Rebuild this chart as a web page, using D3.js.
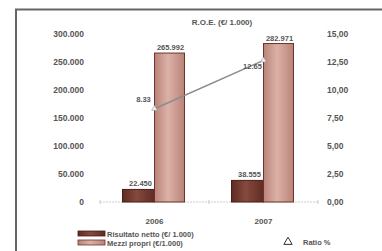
<!DOCTYPE html>
<html>
<head>
<meta charset="utf-8">
<script src="https://cdn.jsdelivr.net/npm/d3@7"></script>
<style>
body { margin: 0; background: #fff; }
svg text { font-family: "Liberation Sans", Arial, sans-serif; font-weight: bold; fill: #555; }
</style>
</head>
<body>
<div id="chart"></div>
<script>
// data
var years = ["2006", "2007"];
var risultatoNetto = [22450, 38555];
var mezziPropri = [265992, 282971];
var ratio = [8.33, 12.65];
var leftTicks = [0, 50000, 100000, 150000, 200000, 250000, 300000];
var rightTicks = [0, 2.5, 5, 7.5, 10, 12.5, 15];

var svgWidth = 382, svgHeight = 251;

var it = d3.formatLocale({decimal: ",", thousands: ".", grouping: [3], currency: ["€", ""]});
var fmtInt = it.format(",d");
var fmtDec = it.format(".2f");
var fmtRatio = d3.format(".2f");

var svg = d3.select("#chart").append("svg")
    .attr("width", svgWidth)
    .attr("height", svgHeight);

// gradients for the bars
var defs = svg.append("defs");
function grad(id, edge, mid) {
  var g = defs.append("linearGradient").attr("id", id)
    .attr("x1", "0%").attr("x2", "100%").attr("y1", "0%").attr("y2", "0%");
  g.append("stop").attr("offset", "0%").attr("stop-color", edge);
  g.append("stop").attr("offset", "45%").attr("stop-color", mid);
  g.append("stop").attr("offset", "100%").attr("stop-color", edge);
}
grad("gDark", "#5e2c23", "#86493e");
grad("gLight", "#b98379", "#dcb1a7");

// frame
svg.append("path")
  .attr("d", "M16," + svgHeight + " V9.5 H" + svgWidth)
  .attr("fill", "none")
  .attr("stroke", "#666")
  .attr("stroke-width", 2);

var x = d3.scaleBand().domain(years).range([100, 318]);
var yL = d3.scaleLinear().domain([0, 300000]).range([202, 34]);
var yR = d3.scaleLinear().domain([0, 15]).range([202, 34]);
var barW = 32;

// title
svg.append("text")
  .attr("x", 222).attr("y", 25)
  .attr("text-anchor", "middle")
  .attr("font-size", "8px")
  .text("R.O.E. (€/ 1.000)");

// left axis
var leftAxis = d3.axisLeft(yL).tickValues(leftTicks).tickSize(0).tickPadding(0)
  .tickFormat(function(d) { return fmtInt(d); });
var gl = svg.append("g").attr("transform", "translate(84,0)").call(leftAxis);
gl.select(".domain").remove();
gl.selectAll("text").attr("font-size", "8.5px").attr("font-family", null).attr("fill", "#555");

// right axis
var rightAxis = d3.axisRight(yR).tickValues(rightTicks).tickSize(0).tickPadding(0)
  .tickFormat(function(d) { return fmtDec(d); });
var gr = svg.append("g").attr("transform", "translate(327,0)").call(rightAxis);
gr.select(".domain").remove();
gr.selectAll("text").attr("font-size", "8.5px").attr("font-family", null).attr("fill", "#555");

// baseline with small ticks at band edges
svg.append("line")
  .attr("x1", x.range()[0]).attr("x2", x.range()[1])
  .attr("y1", yL(0)).attr("y2", yL(0))
  .attr("stroke", "#ccc").attr("stroke-width", 1)
  .attr("stroke-dasharray", "2,1");
var edges = [x.range()[0], x(years[1]), x.range()[1]];
svg.selectAll(".edgeTick").data(edges).enter().append("line")
  .attr("x1", d => d).attr("x2", d => d)
  .attr("y1", yL(0) - 2).attr("y2", yL(0) + 2)
  .attr("stroke", "#ccc");

// bars
function cx(d) { return x(d) + x.bandwidth() / 2; }

svg.selectAll(".barDark").data(years).enter().append("rect")
  .attr("x", d => cx(d) - barW)
  .attr("y", (d, i) => yL(risultatoNetto[i]))
  .attr("width", barW)
  .attr("height", (d, i) => yL(0) - yL(risultatoNetto[i]))
  .attr("fill", "url(#gDark)")
  .attr("stroke", "#4a1d15").attr("stroke-width", 1);

svg.selectAll(".barLight").data(years).enter().append("rect")
  .attr("x", d => cx(d))
  .attr("y", (d, i) => yL(mezziPropri[i]))
  .attr("width", barW - 2)
  .attr("height", (d, i) => yL(0) - yL(mezziPropri[i]))
  .attr("fill", "url(#gLight)")
  .attr("stroke", "#6e3329").attr("stroke-width", 1);

// bar value labels
svg.selectAll(".lblDark").data(years).enter().append("text")
  .attr("x", d => cx(d) - barW / 2 + 2)
  .attr("y", (d, i) => yL(risultatoNetto[i]) - 3)
  .attr("text-anchor", "middle")
  .attr("font-size", "7.5px")
  .text((d, i) => fmtInt(risultatoNetto[i]));

svg.selectAll(".lblLight").data(years).enter().append("text")
  .attr("x", d => cx(d) + barW / 2)
  .attr("y", (d, i) => yL(mezziPropri[i]) - 3)
  .attr("text-anchor", "middle")
  .attr("font-size", "7.5px")
  .text((d, i) => fmtInt(mezziPropri[i]));

// year labels
svg.selectAll(".year").data(years).enter().append("text")
  .attr("x", d => cx(d))
  .attr("y", 224)
  .attr("text-anchor", "middle")
  .attr("font-size", "8px")
  .attr("fill", "#444")
  .text(d => d);

// ratio line
var line = d3.line().x((d, i) => cx(years[i])).y(d => yR(d));
svg.append("path").datum(ratio)
  .attr("d", line)
  .attr("fill", "none")
  .attr("stroke", "#8c8c8c")
  .attr("stroke-width", 1.5);

svg.selectAll(".pt").data(ratio).enter().append("path")
  .attr("transform", (d, i) => "translate(" + cx(years[i]) + "," + yR(d) + ")")
  .attr("d", d3.symbol().type(d3.symbolTriangle).size(14))
  .attr("fill", "#f2f2f2")
  .attr("stroke", "#999")
  .attr("stroke-width", 0.6);

svg.selectAll(".ratioLbl").data(ratio).enter().append("text")
  .attr("x", (d, i) => cx(years[i]) - 11)
  .attr("y", (d, i) => yR(d) + (i === 0 ? -7 : 9))
  .attr("text-anchor", "middle")
  .attr("font-size", "7.5px")
  .attr("fill", "#666")
  .text(d => fmtRatio(d));

// legend
var legend = [
  {name: "Risultato netto (€/ 1.000)", fill: "url(#gDark)", stroke: "#4a1d15"},
  {name: "Mezzi propri (€/1.000)", fill: "url(#gLight)", stroke: "#6e3329"}
];
var lg = svg.selectAll(".leg").data(legend).enter().append("g")
  .attr("transform", (d, i) => "translate(78," + (231 + i * 9) + ")");
lg.append("rect")
  .attr("width", 27).attr("height", 5)
  .attr("fill", d => d.fill)
  .attr("stroke", d => d.stroke).attr("stroke-width", 0.8);
lg.append("text")
  .attr("x", 29).attr("y", 5.5)
  .attr("font-size", "7.5px")
  .text(d => d.name);

svg.append("path")
  .attr("transform", "translate(288,242)")
  .attr("d", d3.symbol().type(d3.symbolTriangle).size(30))
  .attr("fill", "#fff")
  .attr("stroke", "#333")
  .attr("stroke-width", 1);
svg.append("text")
  .attr("x", 303).attr("y", 245)
  .attr("font-size", "7.5px")
  .text("Ratio %");
</script>
</body>
</html>
